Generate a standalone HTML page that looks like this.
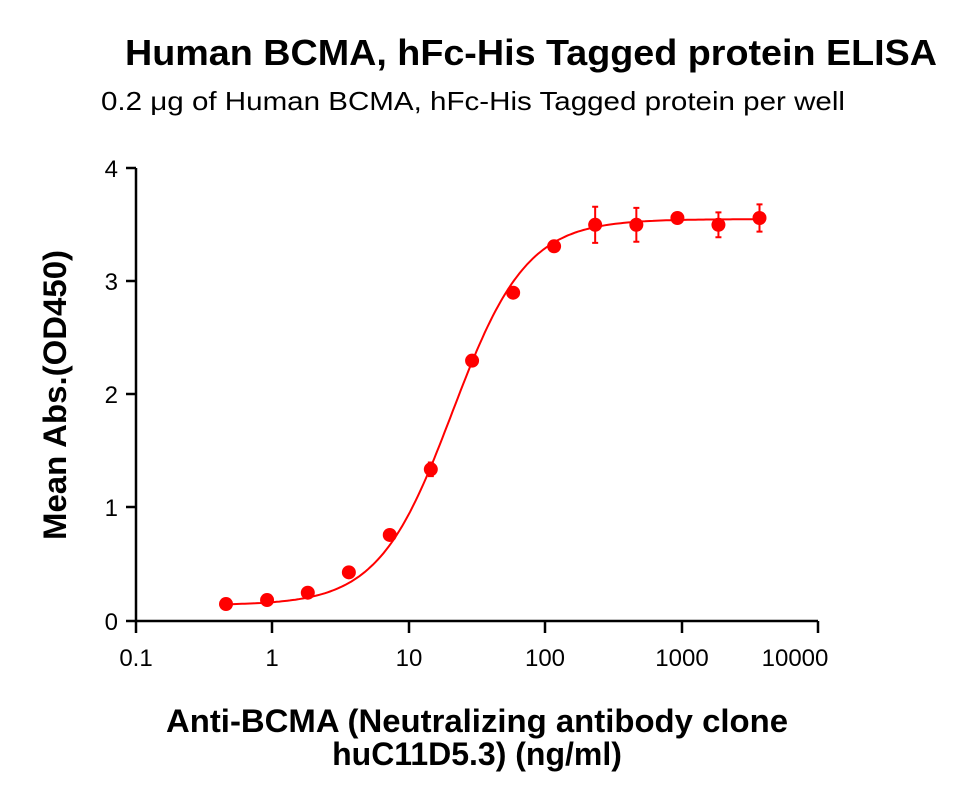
<!DOCTYPE html>
<html><head><meta charset="utf-8"><style>
body{margin:0;background:#fff;width:970px;height:800px;overflow:hidden}
svg{display:block;font-family:"Liberation Sans",Arial,sans-serif}
</style></head><body>
<svg id="s" width="970" height="800" xmlns="http://www.w3.org/2000/svg">
<text x="125" y="65" font-size="36" font-weight="bold" textLength="812" lengthAdjust="spacingAndGlyphs">Human BCMA,  hFc-His Tagged protein ELISA</text>
<text x="101" y="110" font-size="26" textLength="744" lengthAdjust="spacingAndGlyphs">0.2 μg of Human BCMA, hFc-His Tagged protein per well</text>
<g stroke="#000" stroke-width="2.5" fill="none">
<path d="M136,168V621H818"/>
<path d="M126,168H136M126,281H136M126,394H136M126,507H136M126,621H136"/>
<path d="M136,621V633M272,621V633M409,621V633M545,621V633M682,621V633M818,621V633"/>
</g>
<g font-size="24" text-anchor="end">
<text x="118" y="177">4</text><text x="118" y="290">3</text><text x="118" y="403">2</text><text x="118" y="516">1</text><text x="118" y="630">0</text>
</g>
<g font-size="24" text-anchor="middle">
<text x="136" y="666">0.1</text><text x="272" y="666">1</text><text x="409" y="666">10</text><text x="545" y="666">100</text><text x="682" y="666">1000</text><text x="795" y="666">10000</text>
</g>
<text transform="translate(66,395) rotate(-90)" text-anchor="middle" font-size="32" font-weight="bold" textLength="290" lengthAdjust="spacingAndGlyphs">Mean Abs.(OD450)</text>
<text x="477" y="732" text-anchor="middle" font-size="32" font-weight="bold" textLength="622" lengthAdjust="spacingAndGlyphs">Anti-BCMA (Neutralizing antibody clone</text>
<text x="477" y="765" text-anchor="middle" font-size="32" font-weight="bold">huC11D5.3) (ng/ml)</text>
<g id="d"></g>
</svg>
<script>
var X=function(v){return 272+136.4*Math.log10(v)},Y=function(v){return 621-113.2*v};
var f=function(x){return 0.14+3.41/(1+Math.pow(21/x,1.6))};
var p="";for(var i=0;i<=200;i++){var lx=Math.log10(0.46)+i/200*(Math.log10(3750)-Math.log10(0.46));var x=Math.pow(10,lx);p+=(i?"L":"M")+X(x).toFixed(1)+","+Y(f(x)).toFixed(1);}
var xs=[0.46,0.92,1.83,3.66,7.3,14.6,29.3,58.6,117,234,469,938,1875,3750];
var ys=[0.15,0.185,0.25,0.43,0.76,1.34,2.30,2.90,3.31,3.50,3.50,3.56,3.50,3.56];
var es=[0,0,0,0,0,0.06,0,0,0,0.16,0.15,0,0.11,0.12];
var h='<path d="'+p+'" stroke="#f00" stroke-width="2" fill="none"/>';
for(var i=0;i<xs.length;i++){var cx=X(xs[i]),cy=Y(ys[i]);
if(es[i]){var t=Y(ys[i]+es[i]),b=Y(ys[i]-es[i]);h+='<path d="M'+cx+','+t+'V'+b+'M'+(cx-3)+','+t+'H'+(cx+3)+'M'+(cx-3)+','+b+'H'+(cx+3)+'" stroke="#f00" stroke-width="2"/>';}
h+='<circle cx="'+cx+'" cy="'+cy+'" r="7" fill="#f00"/>';}
document.getElementById("d").innerHTML=h;
</script>
</body></html>
